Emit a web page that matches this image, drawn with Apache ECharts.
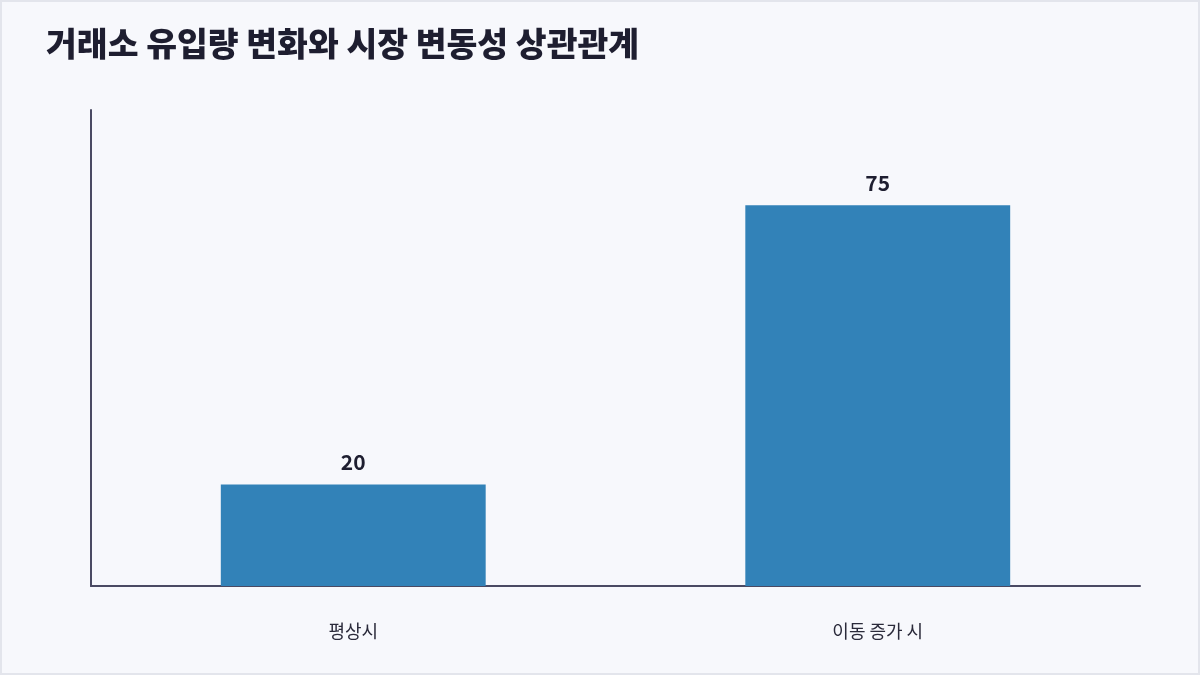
<!DOCTYPE html>
<html>
<head>
<meta charset="utf-8">
<script src="https://cdn.jsdelivr.net/npm/echarts@6/dist/echarts.min.js"></script>
<style>
    html, body { margin: 0; padding: 0; background: #ffffff; }
    #chart { width: 1196px; height: 671px; border: 2px solid #e3e5ec; background: #f7f8fc; }
</style>
</head>
<body>
<div id="chart"></div>
<script>
    // 데이터
    var categories = ['평상시', '이동 증가 시'];
    var values = [20, 75];
    var titleText = '거래소 유입량 변화와 시장 변동성 상관관계';

    var dom = document.getElementById('chart');
    var myChart = echarts.init(dom);
    var option = {
        backgroundColor: '#f7f8fc',
        textStyle: {
            fontFamily: '"Noto Sans CJK KR", "Noto Sans", sans-serif'
        },
        title: {
            text: titleText,
            left: 39,
            top: 20,
            textStyle: {
                fontSize: 33.5,
                fontWeight: 900,
                color: '#1e1e30',
                fontFamily: '"Noto Sans CJK KR", sans-serif'
            }
        },
        grid: {
            left: 89,
            right: 58,
            top: 108,
            bottom: 87,
            containLabel: false
        },
        xAxis: {
            type: 'category',
            data: categories,
            axisLine: {
                lineStyle: { color: '#4a4a63', width: 2 }
            },
            axisTick: { show: false },
            axisLabel: {
                margin: 36,
                fontSize: 18,
                color: '#2a2a3a'
            }
        },
        yAxis: {
            type: 'value',
            min: 0,
            max: 93.75,
            axisLine: {
                show: true,
                lineStyle: { color: '#4a4a63', width: 2 }
            },
            axisTick: { show: false },
            axisLabel: { show: false },
            splitLine: { show: false }
        },
        series: [
            {
                type: 'bar',
                data: values,
                barWidth: '50.5%',
                itemStyle: { color: '#3282b8' },
                label: {
                    show: true,
                    position: 'top',
                    distance: 12,
                    fontSize: 21,
                    fontWeight: 'bold',
                    color: '#1e1e30'
                }
            }
        ]
    };
    myChart.setOption(option);
</script>
</body>
</html>
